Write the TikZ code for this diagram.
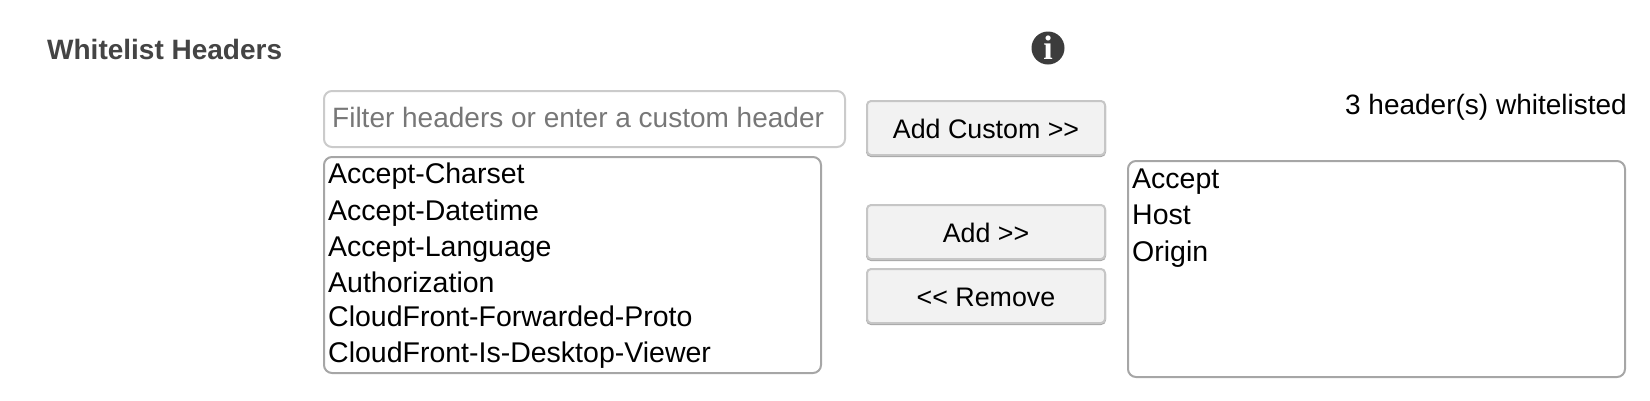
\documentclass[tikz,border=0pt]{standalone}
\usepackage{fontspec}
\setmainfont{Liberation Sans}
\newfontfamily\iconfont{Liberation Serif}
\usepackage{xcolor}
\usetikzlibrary{positioning}
\definecolor{titlegray}{HTML}{444444}
\definecolor{hintgray}{HTML}{777777}
\definecolor{listedge}{HTML}{A6A6A6}
\definecolor{filteredge}{HTML}{CBCBCB}
\definecolor{btnfill}{HTML}{F2F2F2}
\definecolor{btnedge}{HTML}{C6C6C6}
\definecolor{btnshade}{HTML}{A8A8A8}
\definecolor{infogray}{HTML}{3C3C3C}

\begin{document}
\begin{tikzpicture}[x=1pt,y=-1pt,
  list box/.style={draw=listedge,line width=2pt,rounded corners=8pt,anchor=north west,inner sep=0pt},
  filter box/.style={draw=filteredge,line width=2pt,rounded corners=8pt,anchor=north west,inner sep=0pt},
  btn/.style={draw=btnedge,fill=btnfill,line width=2pt,rounded corners=4pt,minimum width=238pt,minimum height=54pt,
    preaction={draw=btnshade,transform canvas={yshift=-1pt}},inner sep=0pt,text height=21pt,text depth=0pt,
    font=\fontsize{26.8}{30}\selectfont},
  item/.style={font=\fontsize{28.5}{30}\selectfont,text=black,inner sep=0pt,text height=25pt,text depth=11pt}]

  \useasboundingbox (0,0) rectangle (1650,400);

  \node[anchor=base west,inner sep=0pt,text=titlegray,font=\fontsize{28}{30}\selectfont\bfseries] (title) at (47,59) {Whitelist Headers};
  \node[circle,fill=infogray,text=white,minimum size=33pt,inner sep=0pt,font=\fontsize{34}{34}\iconfont\bfseries] (info) at (1048,48) {i};

  \node[filter box,minimum width=521pt,minimum height=56pt] (filter) at (323,90) {};
  \node[anchor=base west,inner sep=0pt,text=hintgray,font=\fontsize{28}{30}\selectfont] (hint) at (332,127.5) {Filter headers or enter a custom header};

  \node[list box,minimum width=497pt,minimum height=216pt] (leftlist) at (323,156) {};
  \node[item,anchor=north west] (a1) at (328,158.5) {Accept-Charset};
  \node[item,below=0pt of a1.south west,anchor=north west] (a2) {Accept-Datetime};
  \node[item,below=0pt of a2.south west,anchor=north west] (a3) {Accept-Language};
  \node[item,below=0pt of a3.south west,anchor=north west] (a4) {Authorization};
  \node[item,below=-3pt of a4.south west,anchor=north west] (a5) {CloudFront-Forwarded-Proto};
  \node[item,below=0pt of a5.south west,anchor=north west] (a6) {CloudFront-Is-Desktop-Viewer};

  \node[btn] (custom) at (986,128) {Add Custom >{}>};
  \node[btn] (add) at (986,232) {Add >{}>};
  \node[btn,below=8pt of add] (remove) {<{}< Remove};

  \node[anchor=base east,inner sep=0pt,font=\fontsize{28}{30}\selectfont] (count) at (1627,114) {3 header(s) whitelisted};

  \node[list box,minimum width=497pt,minimum height=216pt] (rightlist) at (1127,160) {};
  \node[item,anchor=north west] (b1) at (1132,163) {Accept};
  \node[item,below=0pt of b1.south west,anchor=north west] (b2) {Host};
  \node[item,below=0pt of b2.south west,anchor=north west] (b3) {Origin};
\end{tikzpicture}
\end{document}
